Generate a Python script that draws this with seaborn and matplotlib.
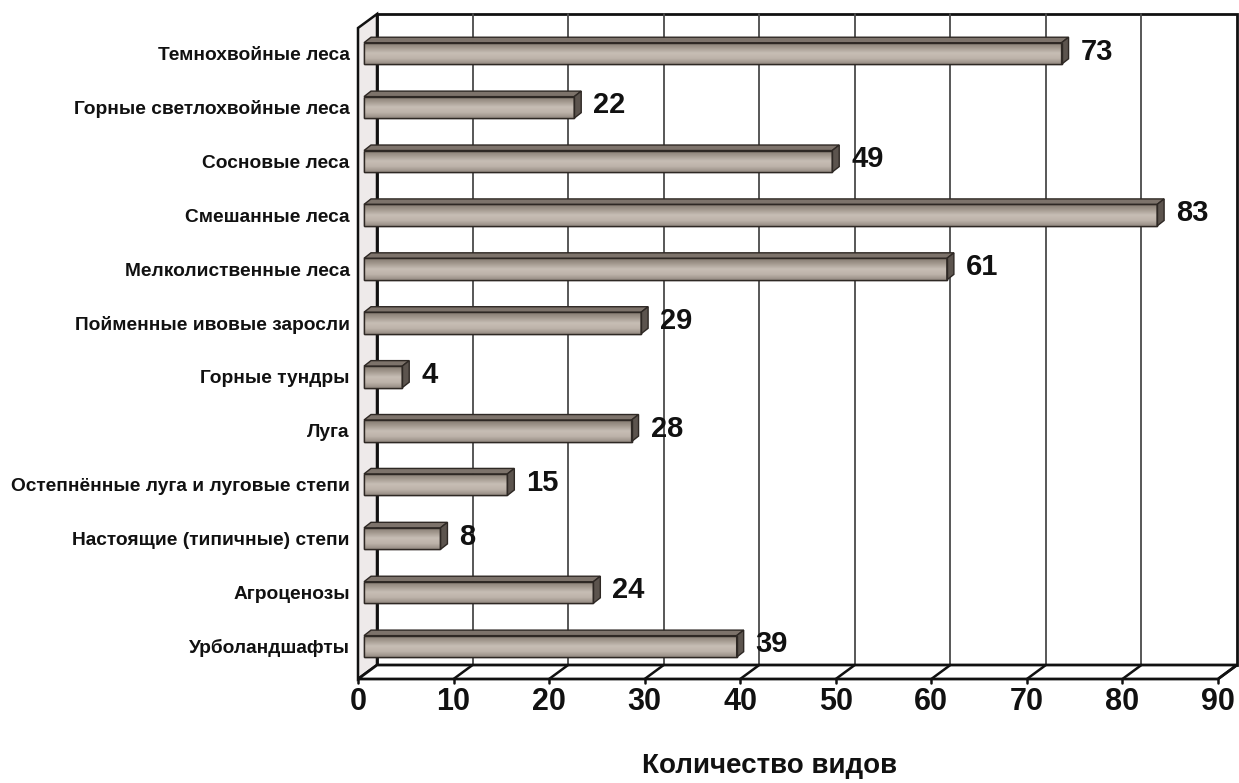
import numpy as np
import pandas as pd
import matplotlib
matplotlib.use("Agg")
import matplotlib.pyplot as plt
from matplotlib.patches import Polygon
from matplotlib.colors import LinearSegmentedColormap
import seaborn as sns

# Number of species by habitat type
habitats = [
    "Темнохвойные леса",
    "Горные светлохвойные леса",
    "Сосновые леса",
    "Смешанные леса",
    "Мелколиственные леса",
    "Пойменные ивовые заросли",
    "Горные тундры",
    "Луга",
    "Остепнённые луга и луговые степи",
    "Настоящие (типичные) степи",
    "Агроценозы",
    "Урболандшафты",
]
species_counts = [73, 22, 49, 83, 61, 29, 4, 28, 15, 8, 24, 39]
x_ticks = [0, 10, 20, 30, 40, 50, 60, 70, 80, 90]
x_label = "Количество видов"

df = pd.DataFrame({"habitat": habitats, "count": species_counts})

sns.set_theme(style="white")
plt.rcParams["font.family"] = ["Liberation Sans", "DejaVu Sans"]

W, H, DPI = 1239, 783, 100
fig = plt.figure(figsize=(W / DPI, H / DPI), dpi=DPI)

# front plane of the 3-D box, in pixels
ax_l, ax_r, ax_t, ax_b = 358, 1218, 28, 679
ax = fig.add_axes([ax_l / W, 1 - ax_b / H, (ax_r - ax_l) / W, (ax_b - ax_t) / H])

XMIN, XMAX = 0, 90
row_px = 53.9
first_center_px = 53.5
Y_TOP = (ax_t - first_center_px) / row_px
Y_BOT = (ax_b - first_center_px) / row_px

px_x = (XMAX - XMIN) / (ax_r - ax_l)          # data units per pixel (x)
px_y = (Y_BOT - Y_TOP) / (ax_b - ax_t)        # data units per pixel (y, downwards)

# depth of the whole box and of each bar, in pixels (right, up)
WALL_DX, WALL_DY = 19 * px_x, -14 * px_y
BAR_DX, BAR_DY = 7 * px_x, -5.5 * px_y
BAR_SHIFT = 6 * px_x

# --- bars ------------------------------------------------------------------
sns.barplot(data=df, x="count", y="habitat", orient="h", width=0.40,
            color="#b0a69d", edgecolor="#2e2824", linewidth=1.0, ax=ax, zorder=2)
bars = list(ax.patches)

ax.set_xlim(XMIN, XMAX)
ax.set_ylim(Y_BOT, Y_TOP)

# --- walls and floor -------------------------------------------------------
left_wall = Polygon(
    [(XMIN, Y_BOT), (XMIN, Y_TOP), (XMIN + WALL_DX, Y_TOP + WALL_DY), (XMIN + WALL_DX, Y_BOT + WALL_DY)],
    closed=True, facecolor="#eeeaea", edgecolor="#111111", lw=1.8, zorder=0.5, clip_on=False)
back_wall = Polygon(
    [(XMIN + WALL_DX, Y_BOT + WALL_DY), (XMIN + WALL_DX, Y_TOP + WALL_DY),
     (XMAX + WALL_DX, Y_TOP + WALL_DY), (XMAX + WALL_DX, Y_BOT + WALL_DY)],
    closed=True, facecolor="white", edgecolor="#111111", lw=2.0, zorder=0.4, clip_on=False)
floor = Polygon(
    [(XMIN, Y_BOT), (XMAX, Y_BOT), (XMAX + WALL_DX, Y_BOT + WALL_DY), (XMIN + WALL_DX, Y_BOT + WALL_DY)],
    closed=True, facecolor="white", edgecolor="#111111", lw=2.0, zorder=0.6, clip_on=False)
for p in (left_wall, back_wall, floor):
    ax.add_patch(p)

for t in x_ticks[1:-1]:
    ax.plot([t + WALL_DX, t + WALL_DX], [Y_BOT + WALL_DY, Y_TOP + WALL_DY],
            color="#4a4a4a", lw=1.3, zorder=0.55, clip_on=False)
for t in x_ticks[1:]:
    ax.plot([t, t + WALL_DX], [Y_BOT, Y_BOT + WALL_DY],
            color="#111111", lw=1.8, zorder=0.7, clip_on=False)
for t in x_ticks:
    ax.plot([t, t], [Y_BOT, Y_BOT + 4 * px_y], color="#111111", lw=1.8, zorder=0.7, clip_on=False)

# --- shaded 3-D bar faces ----------------------------------------------------
front_cmap = LinearSegmentedColormap.from_list(
    "bar_front", ["#82786f", "#a3998f", "#c7beb5", "#bdb3aa", "#958b83"])
grad = np.linspace(0, 1, 64).reshape(-1, 1)

for patch, val in zip(bars, species_counts):
    x0 = patch.get_x() + BAR_SHIFT
    patch.set_x(x0)
    y0 = patch.get_y()
    h = patch.get_height()
    x1 = x0 + patch.get_width()
    y_top, y_bot = min(y0, y0 + h), max(y0, y0 + h)

    img = ax.imshow(grad, cmap=front_cmap, extent=(x0, x1, y_bot, y_top), origin="upper",
                    aspect="auto", zorder=2.1, interpolation="bilinear")
    img.set_clip_path(patch)
    ax.add_patch(Polygon([(x0, y_top), (x1, y_top), (x1, y_bot), (x0, y_bot)], closed=True,
                         facecolor="none", edgecolor="#2e2824", lw=1.0, zorder=2.3))

    top = Polygon([(x0, y_top), (x1, y_top), (x1 + BAR_DX, y_top + BAR_DY), (x0 + BAR_DX, y_top + BAR_DY)],
                  closed=True, facecolor="#7d736b", edgecolor="#2e2824", lw=1.0, zorder=2.2)
    side = Polygon([(x1, y_top), (x1 + BAR_DX, y_top + BAR_DY), (x1 + BAR_DX, y_bot + BAR_DY), (x1, y_bot)],
                   closed=True, facecolor="#5c544e", edgecolor="#2e2824", lw=1.0, zorder=2.2)
    ax.add_patch(top)
    ax.add_patch(side)

    ax.text(x1 + 19 * px_x, (y_top + y_bot) / 2 - 2 * px_y, f"{val}",
            ha="left", va="center", fontsize=21, fontweight="bold", color="#111111", zorder=3)

ax.set_xlim(XMIN, XMAX)
ax.set_ylim(Y_BOT, Y_TOP)

# --- axes text ---------------------------------------------------------------
ax.set_xticks(x_ticks)
ax.set_xticklabels([str(t) for t in x_ticks], fontsize=22, fontweight="bold", color="#111111")
ax.tick_params(axis="x", length=0, pad=6)
ax.tick_params(axis="y", length=0, pad=6)
ax.set_yticks(range(len(habitats)))
ax.set_yticklabels(habitats, fontsize=13.8, fontweight="bold", color="#111111")
ax.set_ylabel("")
ax.set_xlabel("")
ax.grid(False)
for s in ax.spines.values():
    s.set_visible(False)
ax.patch.set_alpha(0)

fig.text(770 / W, 1 - 766 / H, x_label, ha="center", va="center",
         fontsize=20, fontweight="bold", color="#111111")

fig.savefig("out.png", dpi=DPI, facecolor="white")
